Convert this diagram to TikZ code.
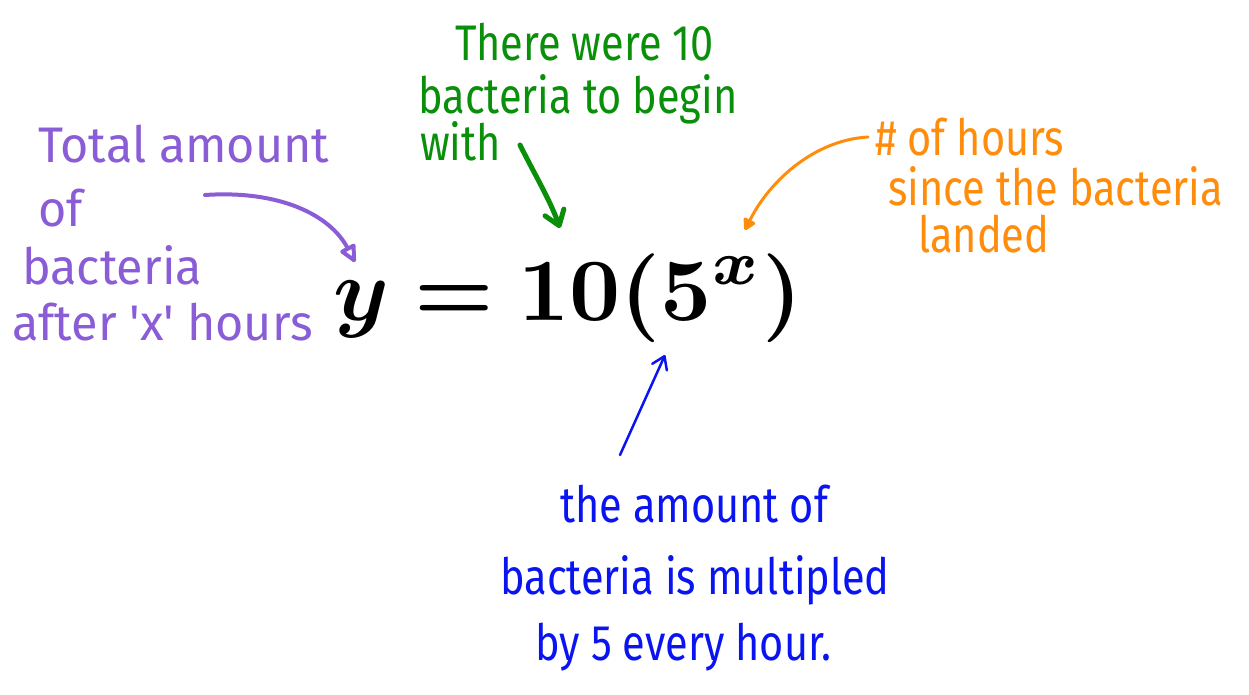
\documentclass[tikz,border=0pt]{standalone}
\usepackage{fontspec}
\usepackage{amsmath,bm}
\newfontfamily\hand{Fira Sans}[FakeStretch=0.83]
\newfontfamily\handp{Fira Sans}[FakeStretch=0.97]
\usetikzlibrary{arrows.meta}
\definecolor{cpurple}{HTML}{8A5CD6}
\definecolor{cgreen}{HTML}{0A8F0A}
\definecolor{corange}{HTML}{FF8C0A}
\definecolor{cblue}{HTML}{0A14F0}
\tikzset{
  hw/.style={font=\hand\fontsize{50}{60}\selectfont, inner sep=0pt, anchor=base west},
  hwp/.style={font=\handp\fontsize{50}{60}\selectfont, inner sep=0pt, anchor=base west, text=cpurple},
  note/.style={line cap=round, line join=round}
}
\begin{document}
\begin{tikzpicture}[x=1pt,y=-1pt]
\useasboundingbox (0,0) rectangle (1249,694);
% equation
\node (eq) at (568,298) {\scalebox{8.9}{$\bm{y = 10(5^x)}$}};
% purple
\node[hwp] (p1) at (38,162) {Total amount};
\node[hwp] (p2) at (38,226) {of};
\node[hwp] (p3) at (22,284) {bacteria};
\node[hwp] (p4) at (12,340) {after 'x' hours};
% green
\node[hw,text=cgreen] (g1) at (455,60) {There were 10};
\node[hw,text=cgreen] (g2) at (418,113) {bacteria to begin};
\node[hw,text=cgreen] (g3) at (420,160) {with};
% orange
\node[hw,text=corange] (o1) at (875,155) {\# of hours};
\node[hw,text=corange] (o2) at (888,205) {since the bacteria};
\node[hw,text=corange] (o3) at (918,252) {landed};
% blue
\node[hw,text=cblue] (b1) at (560,522) {the amount of};
\node[hw,text=cblue] (b2) at (500,594) {bacteria is multipled};
\node[hw,text=cblue] (b3) at (535,660) {by 5 every hour.};
% arrow anchors
\coordinate (pa) at (205,195);
\coordinate (pt) at (355,262);
\coordinate (ga) at (520,145);
\coordinate (gt) at (560,228);
\coordinate (oa) at (868,137);
\coordinate (ot) at (745,230);
\coordinate (ba) at (620,455);
\coordinate (bt) at (665,355);
\draw[note,cpurple,line width=4pt,-{Triangle[open,length=20pt,width=18pt,round]}] (pa) .. controls (280,190) and (330,215) .. (pt);
\draw[note,cgreen,line width=5pt,-{Straight Barb[length=14pt,width=20pt,round]}] (ga) .. controls (535,175) and (550,200) .. (gt);
\draw[note,corange,line width=3pt,-{Triangle[length=13pt,width=14pt,round]}] (oa) .. controls (815,140) and (770,180) .. (ot);
\draw[note,cblue,line width=2.5pt,-{Straight Barb[length=12pt,width=16pt,round]}] (ba) -- (bt);
\end{tikzpicture}
\end{document}
